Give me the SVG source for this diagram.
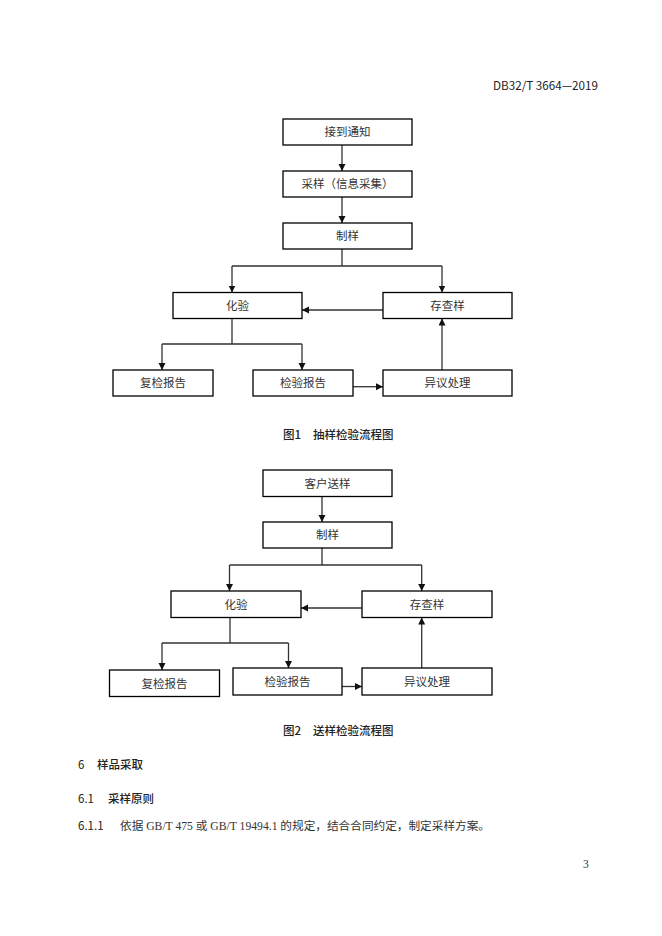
<svg xmlns="http://www.w3.org/2000/svg" width="662" height="936" viewBox="0 0 662 936">
<style>
.box{fill:#fff;stroke:#000;stroke-width:1.3}
.t{font-family:"Noto Sans CJK SC","Noto Sans",sans-serif;font-size:11.5px;fill:#333;text-anchor:middle}
.h{font-family:"Noto Sans CJK SC","Noto Sans",sans-serif;font-size:11.5px;fill:#222;font-weight:500}
.n{font-family:"Noto Sans CJK SC","Noto Sans",sans-serif;font-size:11.5px;fill:#222}
.b{font-family:"Liberation Serif","Noto Sans CJK SC",serif;font-size:11.5px;fill:#333}
.c{fill:none;stroke:#333;stroke-width:1.3}
.a{fill:none;stroke:#333;stroke-width:1.3;marker-end:url(#ah)}
</style>
<defs>
<marker id="ah" markerUnits="userSpaceOnUse" markerWidth="8" markerHeight="8" refX="7" refY="3.5" orient="auto">
<path d="M0,0 L7,3.5 L0,7 z" fill="#111"/>
</marker>
</defs>
<rect width="662" height="936" fill="#fff"/>
<text class="n" x="598" y="90" text-anchor="end" textLength="105" lengthAdjust="spacingAndGlyphs">DB32/T 3664—2019</text>

<g id="fig1-connectors">
<path class="a" d="M342,145 V171"/>
<path class="a" d="M342,197 V223"/>
<path class="c" d="M342,249 V266 M232,266 H442"/>
<path class="a" d="M232,266 V292.5"/>
<path class="a" d="M442,266 V292.5"/>
<path class="a" d="M383,310 H302"/>
<path class="c" d="M232,318.5 V344 M162,344 H302"/>
<path class="a" d="M162,344 V370"/>
<path class="a" d="M302,344 V370"/>
<path class="a" d="M353,386.7 H383"/>
<path class="a" d="M442,370 V318.5"/>
</g>
<g id="n1"><rect class="box" x="283" y="119" width="129" height="26"/><text class="t" x="347.5" y="136">接到通知</text></g>
<g id="n2"><rect class="box" x="283" y="171" width="129" height="26"/><text class="t" x="347.5" y="188">采样（信息采集）</text></g>
<g id="n3"><rect class="box" x="283" y="223" width="129" height="26"/><text class="t" x="347.5" y="240">制样</text></g>
<g id="n4"><rect class="box" x="173" y="292.5" width="129" height="26"/><text class="t" x="237.5" y="309.5">化验</text></g>
<g id="n5"><rect class="box" x="383" y="292.5" width="129" height="26"/><text class="t" x="447.5" y="309.5">存查样</text></g>
<g id="n6"><rect class="box" x="113" y="370" width="100" height="26"/><text class="t" x="163" y="387">复检报告</text></g>
<g id="n7"><rect class="box" x="253" y="370" width="100" height="26"/><text class="t" x="303" y="387">检验报告</text></g>
<g id="n8"><rect class="box" x="383" y="370" width="129" height="26"/><text class="t" x="447.5" y="387">异议处理</text></g>
<text class="h" x="283" y="438.5">图1</text>
<text class="h" x="313" y="438.5">抽样检验流程图</text>

<g id="fig2-connectors">
<path class="a" d="M322,496.5 V522"/>
<path class="c" d="M322,548 V565 M229.5,565 H421.7"/>
<path class="a" d="M229.5,565 V591"/>
<path class="a" d="M421.7,565 V591"/>
<path class="a" d="M362,608 H301"/>
<path class="c" d="M230,617.5 V643 M162,643 H288.5"/>
<path class="a" d="M162,643 V670"/>
<path class="a" d="M288.5,643 V668"/>
<path class="a" d="M342,686.5 H362"/>
<path class="a" d="M421.7,668 V617.5"/>
</g>
<g id="m1"><rect class="box" x="263" y="470" width="129" height="26.5"/><text class="t" x="327.5" y="487.5">客户送样</text></g>
<g id="m2"><rect class="box" x="263" y="522" width="129" height="26"/><text class="t" x="327.5" y="539">制样</text></g>
<g id="m3"><rect class="box" x="171" y="591" width="130" height="26.5"/><text class="t" x="236" y="608.5">化验</text></g>
<g id="m4"><rect class="box" x="362" y="591" width="130" height="26.5"/><text class="t" x="427" y="608.5">存查样</text></g>
<g id="m5"><rect class="box" x="109.5" y="670" width="110" height="26.5"/><text class="t" x="164.5" y="687.5">复检报告</text></g>
<g id="m6"><rect class="box" x="233" y="668" width="109" height="27"/><text class="t" x="287.5" y="685.5">检验报告</text></g>
<g id="m7"><rect class="box" x="362" y="668" width="130" height="27"/><text class="t" x="427" y="685.5">异议处理</text></g>
<text class="h" x="283" y="734.5">图2</text>
<text class="h" x="313" y="734.5">送样检验流程图</text>

<text class="n" x="78" y="769">6</text>
<text class="h" x="97" y="769">样品采取</text>
<text class="n" x="78" y="803">6.1</text>
<text class="h" x="108" y="803">采样原则</text>
<text class="n" x="78" y="830">6.1.1</text>
<text class="b" x="120" y="830" textLength="370" lengthAdjust="spacingAndGlyphs">依据 GB/T 475 或 GB/T 19494.1 的规定，结合合同约定，制定采样方案。</text>
<text class="b" x="583" y="868" font-size="10">3</text>
</svg>
